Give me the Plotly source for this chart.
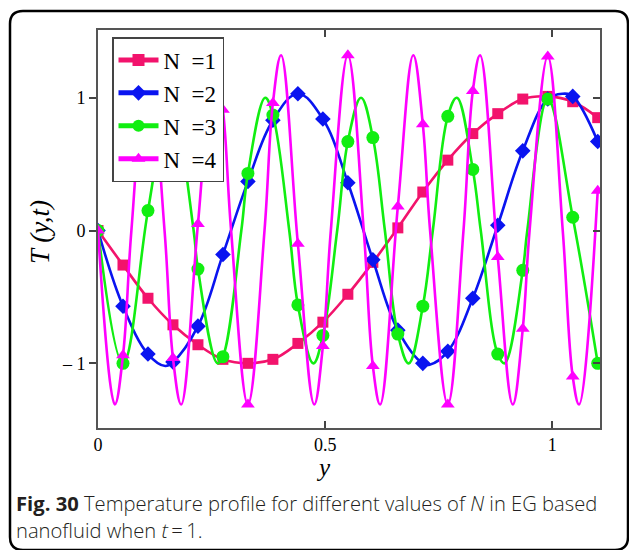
import plotly.graph_objects as go

# ---------------- data ----------------
x_markers = [0, 0.055, 0.11, 0.165, 0.22, 0.275, 0.33, 0.385, 0.44, 0.495, 0.55,
             0.605, 0.66, 0.715, 0.77, 0.825, 0.88, 0.935, 0.99, 1.045, 1.1]

n1_markers = [0, -0.26, -0.51, -0.71, -0.86, -0.97, -1.0, -0.97, -0.85, -0.69, -0.48,
              -0.24, 0.02, 0.29, 0.53, 0.73, 0.88, 0.99, 1.01, 0.97, 0.85]
n2_markers = [0, -0.57, -0.93, -0.99, -0.72, -0.18, 0.37, 0.83, 1.03, 0.84, 0.36,
              -0.22, -0.75, -1.0, -0.91, -0.51, 0.04, 0.6, 0.99, 1.01, 0.67]
n3_markers = [0, -1.0, 0.15, 0.98, -0.29, -0.95, 0.43, 0.87, -0.56, -0.79, 0.67,
              0.7, -0.78, -0.57, 0.86, 0.46, -0.93, -0.3, 0.99, 0.1, -1.0]
n4_markers = [0, -0.94, 1.32, -0.96, 0.05, 0.91, -1.31, 0.96, -0.1, -0.87, 1.32,
              -1.02, 0.18, 0.8, -1.31, 1.05, -0.2, -0.74, 1.31, -1.1, 0.3]

# extra points (extrema and zero crossings)
n1_curve_x = []
n1_curve_y = []
n2_curve_x = [0.148, 0.444, 0.73, 1.022]
n2_curve_y = [-1.02, 1.035, -1.01, 1.03]
n3_curve_x = [0.052, 0.105, 0.158, 0.2105, 0.263, 0.3155, 0.368, 0.421, 0.474, 0.5265,
              0.579, 0.6315, 0.684, 0.737, 0.79, 0.8425, 0.895, 0.945, 0.995, 1.0475]
n3_curve_y = [-1.0, 0, 1.0, 0, -1.0, 0, 1.0, 0, -1.0, 0,
              1.0, 0, -1.0, 0, 1.0, 0, -1.0, 0, 1.0, 0]
n4_curve_x = [0.037, 0.0735, 0.110, 0.1465, 0.183, 0.2195, 0.256, 0.293, 0.330, 0.3665,
              0.403, 0.4395, 0.476, 0.5125, 0.549, 0.585, 0.621, 0.6575, 0.694, 0.731,
              0.768, 0.8045, 0.841, 0.877, 0.913, 0.95, 0.987, 1.023, 1.059, 1.096]
n4_curve_y = [-1.31, 0, 1.32, 0, -1.31, 0, 1.32, 0, -1.31, 0,
              1.32, 0, -1.31, 0, 1.32, 0, -1.31, 0, 1.32, 0,
              -1.31, 0, 1.32, 0, -1.31, 0, 1.32, 0, -1.31, 0]

series_names = ["N\u2002=1", "N\u2002=2", "N\u2002=3", "N\u2002=4"]
colors = ["#f2136c", "#0a14f0", "#11ee11", "#ff00ff"]
symbols = ["square", "diamond", "circle", "triangle-up"]
msizes = [11, 12, 13, 12]

x_ticks = [0, 0.5, 1]
x_ticktext = ["0", "0.5", "1"]
y_ticks = [-1, 0, 1]
y_ticktext = ["\u2013 1", "0", "1"]

caption1 = "<b>Fig. 30</b> Temperature profile for different values of <i>N</i> in EG based"
caption2 = "nanofluid when <i>t</i>\u2009=\u20091."

# ---------------- figure ----------------
W, H = 629, 550
L, R, T, B = 98, 29, 30, 122
PW, PH = W - L - R, H - T - B


def px(xp):
    return (xp - L) / PW


def py(yp):
    return (H - B - yp) / PH


def merge(mx, my, cx, cy, size):
    pts = [(x, y, size) for x, y in zip(mx, my)]
    for x, y in zip(cx, cy):
        if min(abs(x - m) for m in mx) > 0.006:
            pts.append((x, y, 0))
    pts.sort(key=lambda p: p[0])
    return [p[0] for p in pts], [p[1] for p in pts], [p[2] for p in pts]


fig = go.Figure()
all_markers = [n1_markers, n2_markers, n3_markers, n4_markers]
all_cx = [n1_curve_x, n2_curve_x, n3_curve_x, n4_curve_x]
all_cy = [n1_curve_y, n2_curve_y, n3_curve_y, n4_curve_y]
for i in range(4):
    xs, ys, ss = merge(x_markers, all_markers[i], all_cx[i], all_cy[i], msizes[i])
    fig.add_trace(go.Scatter(
        x=xs, y=ys, name=series_names[i], mode="lines+markers",
        line=dict(color=colors[i], width=2.6, shape="spline", smoothing=1.1),
        marker=dict(symbol=symbols[i], size=ss, color=colors[i], opacity=1,
                    line=dict(width=0)),
    ))

# dummy trace so the right-hand axis (inward ticks) is drawn
fig.add_trace(go.Scatter(x=[None], y=[None], yaxis="y2", showlegend=False, hoverinfo="skip"))

yr = [-1.487, 1.51]
tickfont = dict(family="Liberation Serif", size=18, color="black")
fig.update_layout(
    width=W, height=H,
    margin=dict(l=L, r=R, t=T, b=B),
    paper_bgcolor="white", plot_bgcolor="white",
    xaxis=dict(range=[0, 1.105], tickvals=x_ticks, ticktext=x_ticktext,
               ticks="inside", ticklen=7, tickwidth=1.5, tickcolor="#444",
               showline=True, linecolor="#555", linewidth=1.6, mirror="ticks",
               showgrid=False, zeroline=False, tickfont=tickfont),
    yaxis=dict(range=yr, tickvals=y_ticks, ticktext=y_ticktext,
               ticks="outside", ticklen=7, tickwidth=1.5, tickcolor="#444",
               showline=True, linecolor="#555", linewidth=1.6, mirror=True,
               showgrid=False, zeroline=False, tickfont=tickfont),
    yaxis2=dict(range=yr, overlaying="y", side="right", tickvals=y_ticks,
                ticks="inside", ticklen=7, tickwidth=1.5, tickcolor="#444",
                showticklabels=False, showline=False, showgrid=False, zeroline=False),
    legend=dict(x=px(112), y=py(37), xanchor="left", yanchor="top",
                bgcolor="white", bordercolor="#444", borderwidth=1.5,
                font=dict(family="Liberation Serif", size=23, color="black"),
                itemsizing="constant", itemwidth=40, tracegroupgap=0),
    showlegend=True,
)

fig.add_annotation(x=px(40), y=py(232), xref="paper", yref="paper",
                   xanchor="center", yanchor="middle",
                   text="<i>T (y,t)</i>", textangle=-90, showarrow=False,
                   font=dict(family="Liberation Serif", size=27, color="black"))
fig.add_annotation(x=px(323), y=py(467), xref="paper", yref="paper",
                   xanchor="center", yanchor="middle",
                   text="<i>y</i>", showarrow=False,
                   font=dict(family="Liberation Serif", size=25, color="black"))
fig.add_annotation(x=px(14), y=py(503), xref="paper", yref="paper",
                   xanchor="left", yanchor="middle", text=caption1, showarrow=False,
                   font=dict(family="Open Sans", size=20.2, weight=300, color="#231f20"))
fig.add_annotation(x=px(14), y=py(530), xref="paper", yref="paper",
                   xanchor="left", yanchor="middle", text=caption2, showarrow=False,
                   font=dict(family="Open Sans", size=20.2, weight=300, color="#231f20"))

# rounded outer frame
lx, rx, ty, by, r = 10, 628, 11, 550, 13
path = (f"M {px(lx)},{py(by - r)} L {px(lx)},{py(ty + r)} Q {px(lx)},{py(ty)} {px(lx + r)},{py(ty)} "
        f"L {px(rx - r)},{py(ty)} Q {px(rx)},{py(ty)} {px(rx)},{py(ty + r)} "
        f"L {px(rx)},{py(by - r)} Q {px(rx)},{py(by)} {px(rx - r)},{py(by)} "
        f"L {px(lx + r)},{py(by)} Q {px(lx)},{py(by)} {px(lx)},{py(by - r)} Z")
fig.add_shape(type="path", path=path, xref="paper", yref="paper",
              line=dict(color="black", width=2.5), layer="above")

fig.write_html("out.html")
